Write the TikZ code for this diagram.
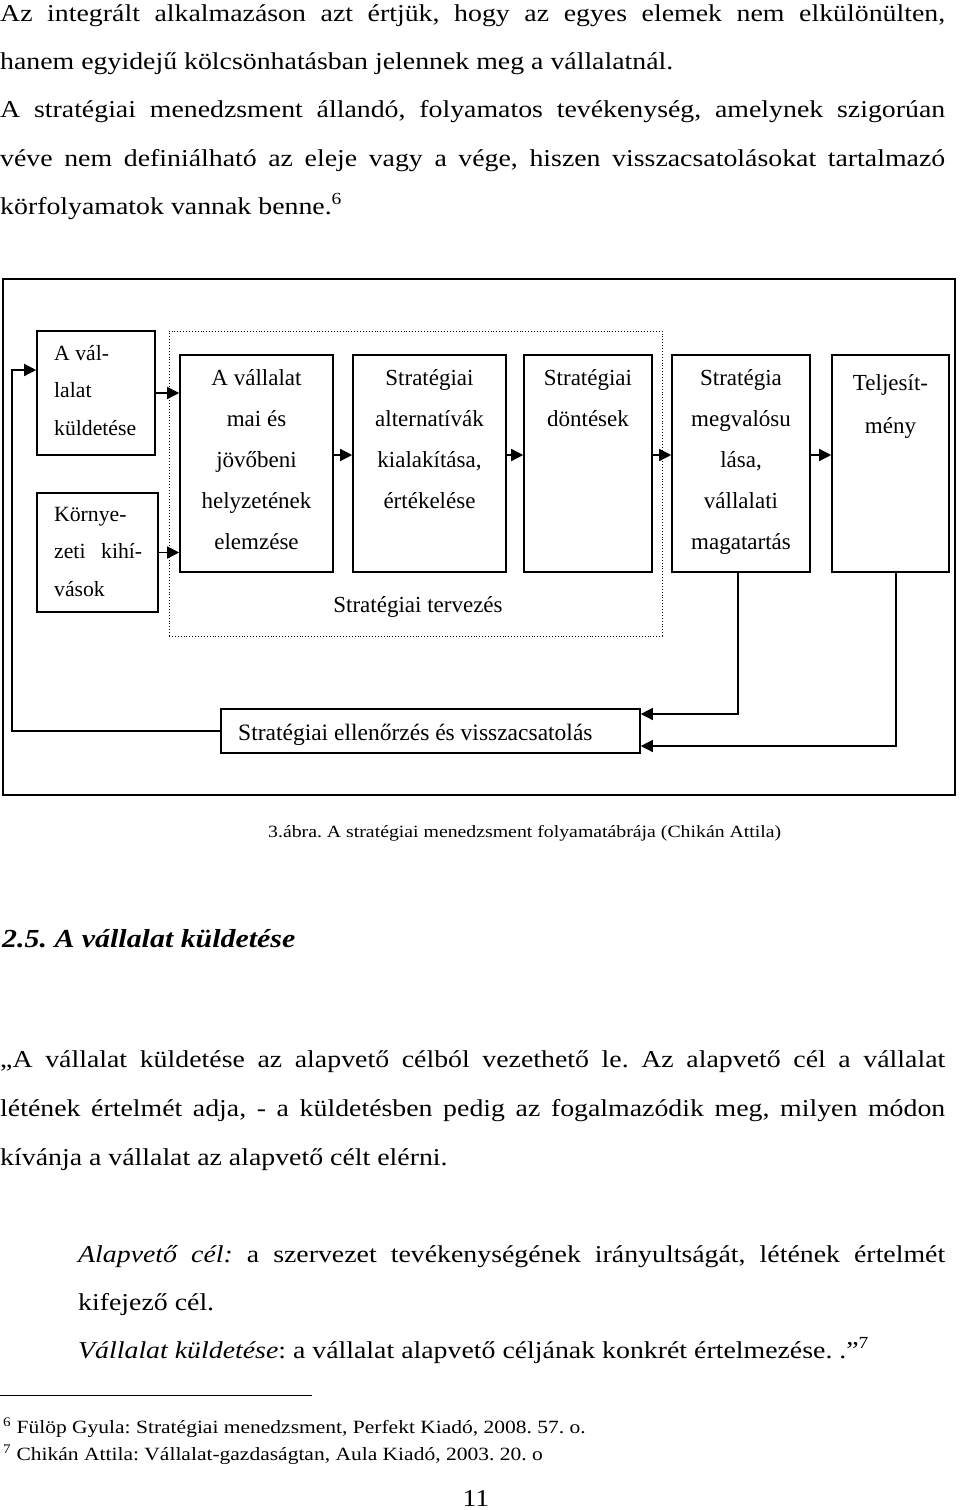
\documentclass[tikz,border=0pt]{standalone}
\usepackage{fontspec}
\setmainfont{Liberation Serif}[FakeStretch=1.15]
\newfontfamily\boxfont{Liberation Serif}
\usetikzlibrary{arrows.meta,positioning}
\frenchspacing
\tikzset{
box/.style={draw,line width=1.6pt,inner sep=0pt},
btxt/.style={font=\boxfont\fontsize{23}{41}\selectfont,align=center,anchor=base,inner sep=0pt},
ltxt/.style={font=\boxfont\fontsize{21.7}{37.5}\selectfont,align=left,anchor=base west,inner sep=0pt},
arr/.style={line width=1.4pt,-{Triangle[length=12pt,width=12pt]}},
body/.style={font=\fontsize{24.2}{48.5}\selectfont,anchor=base west,inner sep=0pt},
note/.style={font=\fontsize{18.7}{27}\selectfont,anchor=base west,inner sep=0pt}}
\newcommand\jline[1]{\makebox[945pt][s]{#1}}
\begin{document}
\begin{tikzpicture}[x=1pt,y=-1pt]
\useasboundingbox[fill=white](0,0)rectangle(960,1510);
\node[body](p1)at(0,21){\jline{Az integrált alkalmazáson azt értjük, hogy az egyes elemek nem elkülönülten,}};
\node[body](p2)at(0,69){hanem egyidejű kölcsönhatásban jelennek meg a vállalatnál.};
\node[body](p3)at(0,117){\jline{A stratégiai menedzsment állandó, folyamatos tevékenység, amelynek szigorúan}};
\node[body](p4)at(0,166){\jline{véve nem definiálható az eleje vagy a vége, hiszen visszacsatolásokat tartalmazó}};
\node[body](p5)at(0,214){körfolyamatok vannak benne.\textsuperscript{6}};
\node[box,minimum width=952,minimum height=516](frame)at(479,537){};
\node[draw,dotted,line width=0.9pt,inner sep=0pt,minimum width=493,minimum height=305](plan)at(415.5,483.5){};
% last line baselines: the nodes sit on their bottom line
\node[box,minimum width=118,minimum height=124](mission)at(96,393){};\node[ltxt]at(54,435){A vál-\\lalat\\küldetése};
\node[box,minimum width=121,minimum height=119](env)at(97.5,552.5){};\node[ltxt]at(54,596){Környe-\\\makebox[88pt][s]{zeti kihí-}\\vások};
\node[box,minimum width=153,minimum height=217](anal)at(256.5,463.5){};\node[btxt]at(256.5,549){A vállalat\\mai és\\jövőbeni\\helyzetének\\elemzése};
\node[box,minimum width=153,minimum height=217](alt)at(429.5,463.5){};\node[btxt]at(429.5,508){Stratégiai\\alternatívák\\kialakítása,\\értékelése};
\node[box,minimum width=128,minimum height=217](dec)at(588,463.5){};\node[btxt]at(588,426){Stratégiai\\döntések};
\node[box,minimum width=138,minimum height=217](impl)at(741,463.5){};\node[btxt]at(741,549){Stratégia\\megvalósu\\lása,\\vállalati\\magatartás};
\node[box,minimum width=117,minimum height=217](perf)at(890.5,463.5){};\node[btxt,font=\boxfont\fontsize{23}{43}\selectfont]at(890.5,433){Teljesít-\\mény};
\node[btxt](plant)at(418,612){Stratégiai tervezés};
\node[box,minimum width=419,minimum height=44](ctrl)at(430.5,731){};\node[btxt,anchor=base west,font=\boxfont\fontsize{23.5}{28}\selectfont]at(238,740){Stratégiai ellenőrzés és visszacsatolás};
\coordinate(fb)at(12,370);
\draw[arr](mission.east)--(mission.east-|anal.west);\draw[arr](env.east)--(env.east-|anal.west);
\draw[arr]([yshift=8.5pt]anal.east)--([yshift=8.5pt]alt.west);\draw[arr]([yshift=8.5pt]alt.east)--([yshift=8.5pt]dec.west);
\draw[arr]([yshift=8.5pt]dec.east)--([yshift=8.5pt]impl.west);\draw[arr]([yshift=8.5pt]impl.east)--([yshift=8.5pt]perf.west);
\draw[arr]([xshift=-3pt]impl.south)|-([yshift=17pt]ctrl.east);\draw[arr]([xshift=5.5pt]perf.south)|-([yshift=-15pt]ctrl.east);
\draw[arr](ctrl.west)-|(fb)--([yshift=23pt]mission.west);
\node[font=\fontsize{17.2}{20}\selectfont,anchor=base west,inner sep=0pt](cap)at(268,837){3.ábra. A stratégiai menedzsment folyamatábrája (Chikán Attila)};
\node[font=\fontsize{26}{30}\selectfont\bfseries\itshape,anchor=base west,inner sep=0pt](head)at(2,947){2.5. A vállalat küldetése};
\node[body](q1)at(0,1067){\jline{„A vállalat küldetése az alapvető célból vezethető le. Az alapvető cél a vállalat}};
\node[body](q2)at(0,1116){\jline{létének értelmét adja, - a küldetésben pedig az fogalmazódik meg, milyen módon}};
\node[body](q3)at(0,1165){kívánja a vállalat az alapvető célt elérni.};
\node[body](d1)at(78,1262){\makebox[867pt][s]{\textit{Alapvető cél:} a szervezet tevékenységének irányultságát, létének értelmét}};
\node[body](d2)at(78,1310){kifejező cél.};
\node[body](d3)at(78,1358){\textit{Vállalat küldetése}: a vállalat alapvető céljának konkrét értelmezése. .”\textsuperscript{7}};
\draw[line width=1pt](0,1395)--(312,1395);
\node[note](fn6)at(3,1433){\textsuperscript{6} Fülöp Gyula: Stratégiai menedzsment, Perfekt Kiadó, 2008. 57. o.};
\node[note](fn7)at(3,1460){\textsuperscript{7} Chikán Attila: Vállalat-gazdaságtan, Aula Kiadó, 2003. 20. o};
\node[body,anchor=base](pnum)at(476,1506){11};
\end{tikzpicture}
\end{document}
